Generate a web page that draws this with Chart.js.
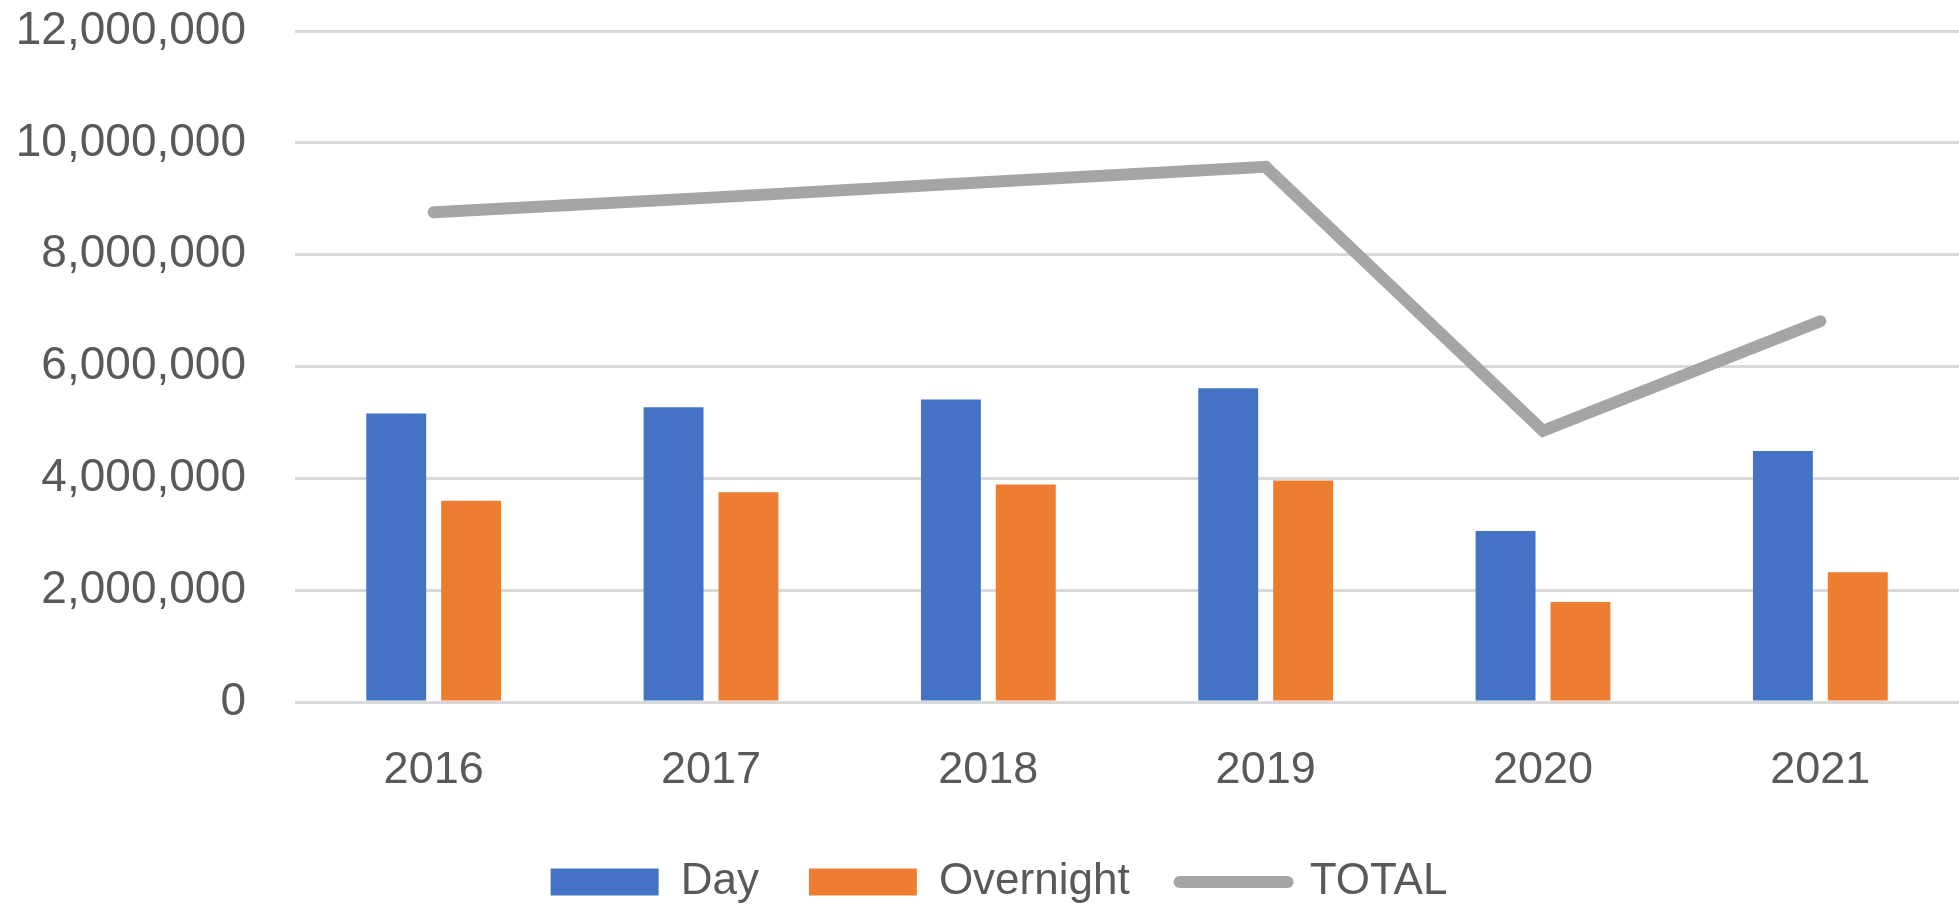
<!DOCTYPE html>
<html>
<head>
<meta charset="utf-8">
<title>Day / Overnight / TOTAL</title>
<script src="https://cdn.jsdelivr.net/npm/chart.js@4"></script>
<style>
    html, body { margin: 0; padding: 0; background: #fff; }
    #wrap { width: 1959px; height: 907px; }
</style>
</head>
<body>
<div id="wrap"><canvas id="visitsChart"></canvas></div>
<script>
// Chart data
const years = ['2016', '2017', '2018', '2019', '2020', '2021'];
const dayValues = [5160000, 5270000, 5410000, 5610000, 3060000, 4490000];
const overnightValues = [3600000, 3750000, 3890000, 3960000, 1790000, 2320000];
const totalValues = [8760000, 9020000, 9300000, 9570000, 4850000, 6810000];
const yTicks = [0, 2000000, 4000000, 6000000, 8000000, 10000000, 12000000];

const textColor = '#595959';
const gridColor = '#d9d9d9';
const fontFamily = '"Liberation Sans", Arial, sans-serif';

// nudge the legend a little to the right, like the original
const legendShift = {
    id: 'legendShift',
    afterLayout(chart) {
        if (chart.legend) {
            chart.legend.left += 12;
            chart.legend.right += 12;
        }
    }
};

const ctx = document.getElementById('visitsChart').getContext('2d');
const visitsChart = new Chart(ctx, {
    type: 'bar',
    data: {
        labels: years,
        datasets: [{
            label: 'Day',
            data: dayValues,
            backgroundColor: '#4472C4',
            categoryPercentage: 0.54,
            barPercentage: 0.8
        }, {
            label: 'Overnight',
            data: overnightValues,
            backgroundColor: '#ED7D31',
            categoryPercentage: 0.54,
            barPercentage: 0.8
        }, {
            type: 'line',
            label: 'TOTAL',
            data: totalValues,
            borderColor: '#A5A5A5',
            backgroundColor: '#A5A5A5',
            borderWidth: 12,
            borderCapStyle: 'round',
            borderJoinStyle: 'miter',
            pointRadius: 0,
            tension: 0,
            fill: false
        }]
    },
    options: {
        responsive: true,
        maintainAspectRatio: false,
        animation: false,
        layout: {
            padding: { left: 15, right: 0, top: 31, bottom: 0 }
        },
        plugins: {
            tooltip: { enabled: false },
            legend: {
                position: 'bottom',
                maxHeight: 97,
                labels: {
                    color: textColor,
                    font: { family: fontFamily, size: 44 },
                    usePointStyle: true,
                    pointStyleWidth: 108,
                    boxHeight: 27,
                    padding: 50,
                    generateLabels: (chart) => chart.data.datasets.map((ds, i) => ({
                        text: ds.label,
                        datasetIndex: i,
                        fillStyle: ds.type === 'line' ? ds.borderColor : ds.backgroundColor,
                        strokeStyle: ds.type === 'line' ? ds.borderColor : ds.backgroundColor,
                        lineWidth: ds.type === 'line' ? 12 : 0,
                        lineCap: 'round',
                        pointStyle: ds.type === 'line' ? 'line' : 'rect',
                        fontColor: textColor,
                        hidden: false
                    }))
                }
            }
        },
        scales: {
            x: {
                grid: { display: false },
                border: { display: false },
                ticks: {
                    color: textColor,
                    font: { family: fontFamily, size: 45 },
                    padding: 34
                },
                afterFit: (axis) => {
                    axis.height = 108;
                }
            },
            y: {
                min: 0,
                max: 12000000,
                afterBuildTicks: (axis) => {
                    axis.ticks = yTicks.map(v => ({ value: v }));
                },
                afterFit: (axis) => {
                    axis.width = 280;
                    axis.paddingTop = 0;
                    axis.paddingBottom = 0;
                },
                grid: {
                    color: gridColor,
                    lineWidth: 3,
                    drawTicks: false
                },
                border: { display: false },
                ticks: {
                    color: textColor,
                    font: { family: fontFamily, size: 46 },
                    padding: 49,
                    callback: (value) => Number(value).toLocaleString('en-US')
                }
            }
        }
    },
    plugins: [legendShift]
});
</script>
</body>
</html>
